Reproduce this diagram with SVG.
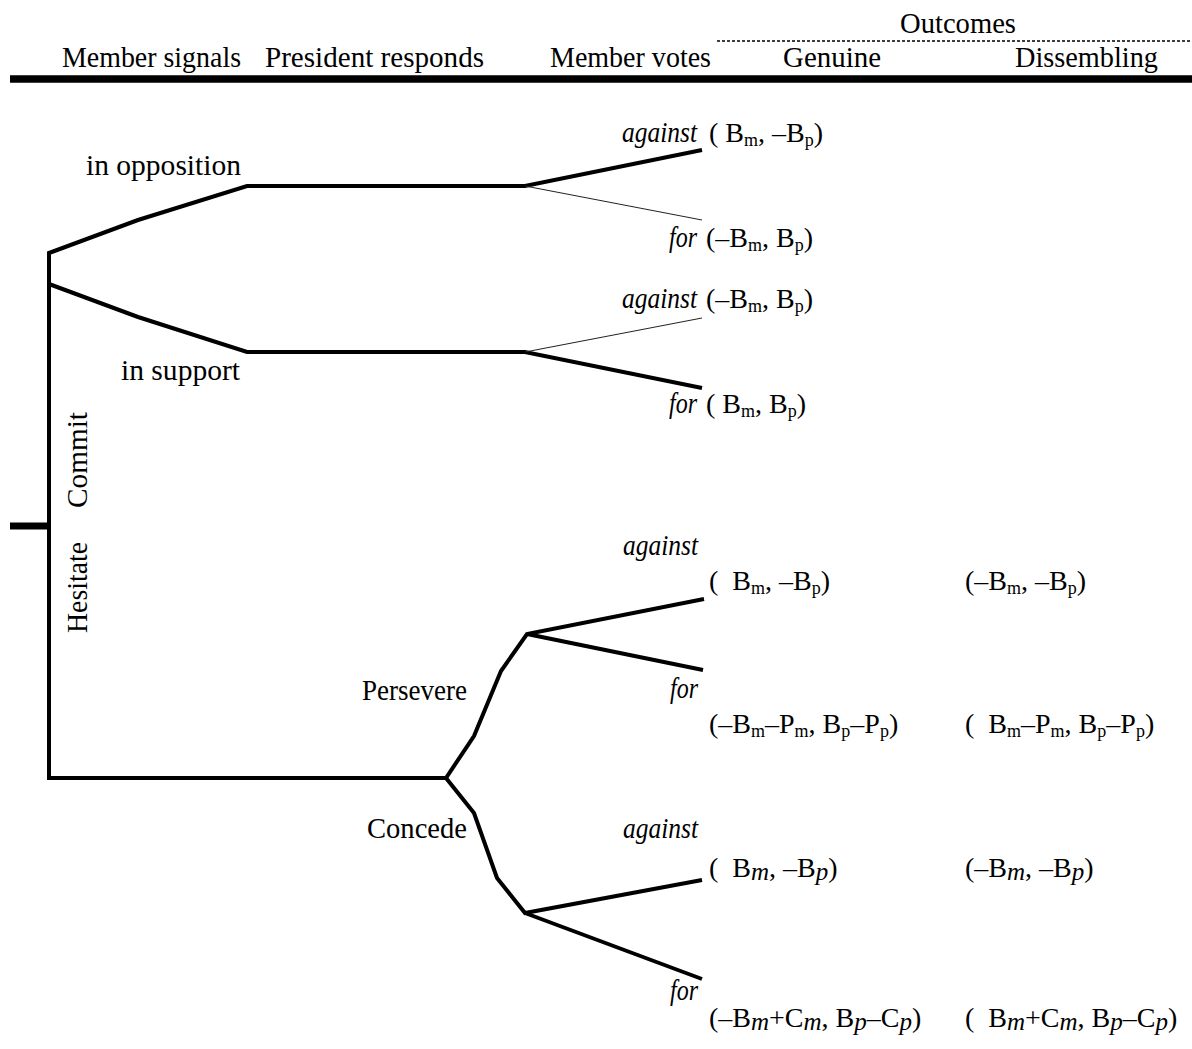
<svg xmlns="http://www.w3.org/2000/svg" width="1192" height="1049" viewBox="0 0 1192 1049">
<style>
text{font-family:"Liberation Serif","Times New Roman",serif;font-size:29px;fill:#000}
.it{font-style:italic}
.f{font-size:28px}
.sb{font-size:18px}
.si{font-size:25px;font-style:italic}
.br{fill:none;stroke:#000;stroke-width:4;stroke-linejoin:miter}
.thin{fill:none;stroke:#222;stroke-width:1}
</style>
<rect width="1192" height="1049" fill="#fff"/>
<g id="header">
<text x="900" y="33" textLength="116" lengthAdjust="spacingAndGlyphs">Outcomes</text>
<line x1="717" y1="41" x2="1192" y2="41" stroke="#000" stroke-width="1.5" stroke-dasharray="3 2"/>
<text x="62" y="67" textLength="179" lengthAdjust="spacingAndGlyphs">Member signals</text>
<text x="265" y="67" textLength="219" lengthAdjust="spacingAndGlyphs">President responds</text>
<text x="550" y="67" textLength="161" lengthAdjust="spacingAndGlyphs">Member votes</text>
<text x="783" y="67" textLength="98" lengthAdjust="spacingAndGlyphs">Genuine</text>
<text x="1015" y="67" textLength="143" lengthAdjust="spacingAndGlyphs">Dissembling</text>
<line x1="10" y1="79" x2="1192" y2="79" stroke="#000" stroke-width="7.5"/>
</g>
<g id="connectors">
<line x1="10" y1="526" x2="49" y2="526" stroke="#000" stroke-width="7"/>
<polyline class="br" points="49,778 49,253 138,220 247,186 525,186 702,150"/>
<line class="thin" x1="525" y1="186" x2="702" y2="220"/>
<polyline class="br" points="49,284 138,317 247,352 525,352 702,388"/>
<line class="thin" x1="525" y1="352" x2="702" y2="318"/>
<polyline class="br" points="47,778 446,778 474,736 501,671 527,634 704,599"/>
<line class="br" x1="527" y1="634" x2="703" y2="670"/>
<polyline class="br" points="446,778 474,813 497,878 525,913 702,880"/>
<line class="br" x1="525" y1="913" x2="702" y2="979"/>
</g>
<g id="node-member">
<text transform="translate(87,508) rotate(-90)" textLength="96" lengthAdjust="spacingAndGlyphs">Commit</text>
<text transform="translate(87,633) rotate(-90)" textLength="91" lengthAdjust="spacingAndGlyphs">Hesitate</text>
</g>
<g id="node-commit">
<text x="86" y="175" textLength="155" lengthAdjust="spacingAndGlyphs">in opposition</text>
<text x="121" y="380" textLength="119" lengthAdjust="spacingAndGlyphs">in support</text>
</g>
<g id="node-opposition">
<text class="it" x="622" y="142" textLength="75" lengthAdjust="spacingAndGlyphs">against</text>
<text class="f" x="709" y="142">( B<tspan class="sb" dy="4">m</tspan><tspan dy="-4">, –B</tspan><tspan class="sb" dy="4">p</tspan><tspan dy="-4">)</tspan></text>
<text class="it" x="669" y="247" textLength="28" lengthAdjust="spacingAndGlyphs">for</text>
<text class="f" x="706" y="247">(–B<tspan class="sb" dy="4">m</tspan><tspan dy="-4">, B</tspan><tspan class="sb" dy="4">p</tspan><tspan dy="-4">)</tspan></text>
</g>
<g id="node-support">
<text class="it" x="622" y="308" textLength="75" lengthAdjust="spacingAndGlyphs">against</text>
<text class="f" x="706" y="308">(–B<tspan class="sb" dy="4">m</tspan><tspan dy="-4">, B</tspan><tspan class="sb" dy="4">p</tspan><tspan dy="-4">)</tspan></text>
<text class="it" x="669" y="413" textLength="28" lengthAdjust="spacingAndGlyphs">for</text>
<text class="f" x="706" y="413">( B<tspan class="sb" dy="4">m</tspan><tspan dy="-4">, B</tspan><tspan class="sb" dy="4">p</tspan><tspan dy="-4">)</tspan></text>
</g>
<g id="node-hesitate">
<text x="362" y="700" textLength="105" lengthAdjust="spacingAndGlyphs">Persevere</text>
<text x="367" y="838" textLength="100" lengthAdjust="spacingAndGlyphs">Concede</text>
</g>
<g id="node-persevere">
<text class="it" x="623" y="555" textLength="75" lengthAdjust="spacingAndGlyphs">against</text>
<text class="f" x="709" y="590">(&#160; B<tspan class="sb" dy="4">m</tspan><tspan dy="-4">, –B</tspan><tspan class="sb" dy="4">p</tspan><tspan dy="-4">)</tspan></text>
<text class="f" x="965" y="590">(–B<tspan class="sb" dy="4">m</tspan><tspan dy="-4">, –B</tspan><tspan class="sb" dy="4">p</tspan><tspan dy="-4">)</tspan></text>
<text class="it" x="670" y="698" textLength="28" lengthAdjust="spacingAndGlyphs">for</text>
<text class="f" x="709" y="733">(–B<tspan class="sb" dy="4">m</tspan><tspan dy="-4">–P</tspan><tspan class="sb" dy="4">m</tspan><tspan dy="-4">, B</tspan><tspan class="sb" dy="4">p</tspan><tspan dy="-4">–P</tspan><tspan class="sb" dy="4">p</tspan><tspan dy="-4">)</tspan></text>
<text class="f" x="965" y="733">(&#160; B<tspan class="sb" dy="4">m</tspan><tspan dy="-4">–P</tspan><tspan class="sb" dy="4">m</tspan><tspan dy="-4">, B</tspan><tspan class="sb" dy="4">p</tspan><tspan dy="-4">–P</tspan><tspan class="sb" dy="4">p</tspan><tspan dy="-4">)</tspan></text>
</g>
<g id="node-concede">
<text class="it" x="623" y="838" textLength="75" lengthAdjust="spacingAndGlyphs">against</text>
<text class="f" x="709" y="877">(&#160; B<tspan class="si" dy="3">m</tspan><tspan dy="-3">, –B</tspan><tspan class="si" dy="3">p</tspan><tspan dy="-3">)</tspan></text>
<text class="f" x="965" y="877">(–B<tspan class="si" dy="3">m</tspan><tspan dy="-3">, –B</tspan><tspan class="si" dy="3">p</tspan><tspan dy="-3">)</tspan></text>
<text class="it" x="670" y="1000" textLength="28" lengthAdjust="spacingAndGlyphs">for</text>
<text class="f" x="709" y="1027">(–B<tspan class="si" dy="3">m</tspan><tspan dy="-3">+C</tspan><tspan class="si" dy="3">m</tspan><tspan dy="-3">, B</tspan><tspan class="si" dy="3">p</tspan><tspan dy="-3">–C</tspan><tspan class="si" dy="3">p</tspan><tspan dy="-3">)</tspan></text>
<text class="f" x="965" y="1027">(&#160; B<tspan class="si" dy="3">m</tspan><tspan dy="-3">+C</tspan><tspan class="si" dy="3">m</tspan><tspan dy="-3">, B</tspan><tspan class="si" dy="3">p</tspan><tspan dy="-3">–C</tspan><tspan class="si" dy="3">p</tspan><tspan dy="-3">)</tspan></text>
</g>
</svg>
